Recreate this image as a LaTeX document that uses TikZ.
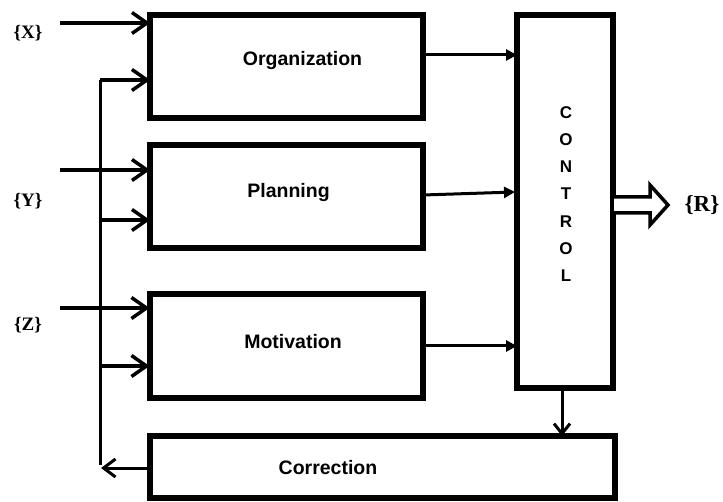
\documentclass[tikz,border=0pt]{standalone}
\usepackage{fontspec}
\setmainfont{Liberation Serif}
\setsansfont{Liberation Sans}
\usetikzlibrary{arrows.meta}
\tikzset{
  blk/.style={draw=black, line width=6pt, rectangle, inner sep=0pt, outer sep=0pt},
  blabel/.style={font=\sffamily\bfseries\fontsize{19.5}{22}\selectfont, inner sep=0pt},
  setlabel/.style={font=\rmfamily\bfseries\fontsize{19}{21}\selectfont, inner sep=0pt},
  inarrow/.style={line width=3.5pt, -{Straight Barb[length=15pt, width=21pt, line width=3.5pt]}},
  carrow/.style={line width=3pt, -{Triangle[length=11pt, width=11pt]}},
  bus/.style={line width=3pt},
}
\begin{document}
\begin{tikzpicture}[x=1pt, y=-1pt]
\useasboundingbox (0,0) rectangle (723,502);
% boxes
\node[blk, minimum width=273pt, minimum height=103pt] (org) at (286.5,66.5) {};
\node[blk, minimum width=273pt, minimum height=103pt] (plan) at (286.5,196.5) {};
\node[blk, minimum width=273pt, minimum height=104pt] (mot) at (286,346) {};
\node[blk, minimum width=96pt, minimum height=373pt] (ctrl) at (565,201.5) {};
\node[blk, minimum width=465pt, minimum height=62pt] (corr) at (382.5,467) {};
% labels
\node[blabel] (torg) at (302.5,61) {Organization};
\node[blabel] (tplan) at (288.5,193) {Planning};
\node[blabel] (tmot) at (293,342) {Motivation};
\node[blabel] (tcorr) at (328,468) {Correction};
\node[font=\sffamily\bfseries\fontsize{17}{27.2}\selectfont, align=center, inner sep=0pt] (tctrl) at (566,194) {C\\O\\N\\T\\R\\O\\L};
\node[setlabel] (lx) at (28,33) {\{X\}};
\node[setlabel] (ly) at (28,201) {\{Y\}};
\node[setlabel] (lz) at (28,325) {\{Z\}};
\node[font=\rmfamily\bfseries\fontsize{23}{26}\selectfont, inner sep=0pt] (lr) at (702,205) {\{R\}};
% input arrows
\coordinate (xin) at (60,23);
\coordinate (yin) at (60,170);
\coordinate (zin) at (60,308);
\draw[inarrow] (xin) -- (xin -| org.west);
\draw[inarrow] (yin) -- (yin -| plan.west);
\draw[inarrow] (zin) -- (zin -| mot.west);
% feedback bus
\coordinate (b1) at (100,80);
\coordinate (b2) at (100,220);
\coordinate (b3) at (100,366);
\coordinate (b4) at (100,465);
\coordinate (fb) at (101,468);
\draw[bus] (b4) -- (b1);
\draw[inarrow] (b1) -- (b1 -| org.west);
\draw[inarrow] (b2) -- (b2 -| plan.west);
\draw[inarrow] (b3) -- (b3 -| mot.west);
\draw[line width=3pt, -{Straight Barb[length=12pt, width=18pt, line width=3pt]}] (fb -| corr.west) -- (fb);
% into control
\coordinate (c1) at (423,55);
\coordinate (c2a) at (423,195);
\coordinate (c2b) at (515,192);
\coordinate (c3) at (423,346);
\draw[carrow] (c1) -- (c1 -| ctrl.west);
\draw[carrow] (c2a) -- (c2b);
\draw[carrow] (c3) -- (c3 -| ctrl.west);
% control to correction
\coordinate (cc) at (562,388);
\draw[line width=3pt, -{Straight Barb[length=10pt, width=16pt, line width=3pt]}] (cc) -- (cc |- corr.north);
% output double arrow
\draw[line width=3.5pt, line join=miter, fill=white] (614,197) -- (650,197) -- (650,185) -- (668,205) -- (650,225) -- (650,213) -- (614,213);
\end{tikzpicture}
\end{document}
